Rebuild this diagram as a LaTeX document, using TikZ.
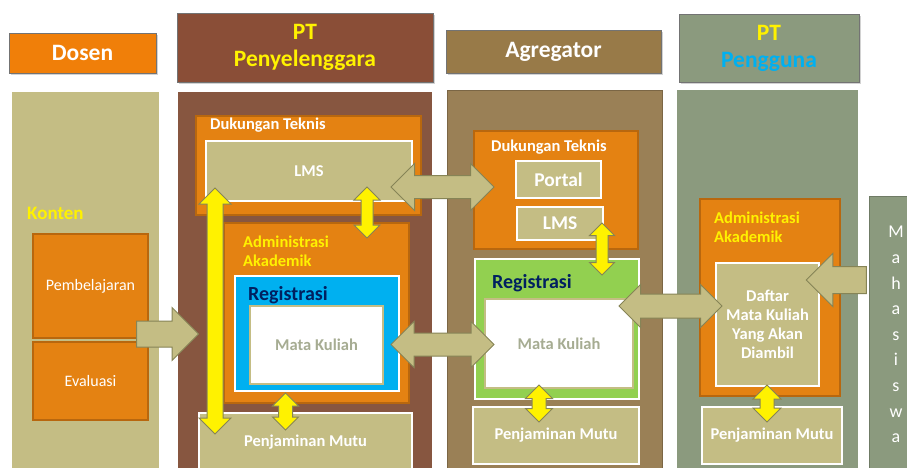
\documentclass[tikz,border=0pt]{standalone}
\usepackage{fontspec}
\setmainfont{Carlito}
\usetikzlibrary{shapes.arrows,shadows}
\definecolor{dosenor}{RGB}{240,127,9}
\definecolor{boxor}{RGB}{228,130,18}
\definecolor{boxorline}{RGB}{184,103,14}
\definecolor{ptbrown}{RGB}{135,86,64}
\definecolor{ptbrownhd}{RGB}{138,78,55}
\definecolor{agrbrown}{RGB}{154,128,86}
\definecolor{agrbrownhd}{RGB}{152,122,72}
\definecolor{usrgreen}{RGB}{139,154,126}
\definecolor{khaki}{RGB}{196,189,132}
\definecolor{khakiline}{RGB}{134,132,86}
\definecolor{regblue}{RGB}{0,176,240}
\definecolor{reggreen}{RGB}{146,208,80}
\definecolor{regnavy}{RGB}{0,32,96}
\definecolor{mkgray}{RGB}{166,172,146}
\newcommand{\smallbf}{\fontsize{16.5}{19}\selectfont\bfseries}

\begin{document}
\begin{tikzpicture}[x=1pt,y=-1pt,
    blk/.style={rectangle,inner sep=0pt,outer sep=0pt,anchor=north west},
    header/.style={blk,draw=black!55,line width=0.8pt,align=center,
      drop shadow={shadow xshift=2pt,shadow yshift=-2pt,opacity=0.35},
      font=\fontsize{23.5}{27}\selectfont\bfseries},
    orbox/.style={blk,fill=boxor,draw=boxorline,line width=1.2pt},
    kbox/.style={blk,fill=khaki,draw=white,line width=1.6pt,text=white,align=center,font=\smallbf},
    lbl/.style={anchor=west,inner sep=0pt,align=left,font=\smallbf},
    regbox/.style={blk,draw=white,line width=1.6pt},
    mkbox/.style={blk,fill=white,draw=khaki,line width=1.6pt,text=mkgray,font=\smallbf},
    linkarrow/.style={double arrow,fill=khaki,draw=khakiline,line width=1pt,inner xsep=0pt,minimum height=103pt},
    yarrow/.style={double arrow,fill=yellow,draw=khakiline,line width=1pt,inner xsep=0pt,rotate=90},
    inarrow/.style={single arrow,fill=khaki,draw=khakiline,line width=1pt,inner xsep=0pt}]
  \useasboundingbox (0,0) rectangle (907,468);
  \fill[white] (0,0) rectangle (907,468);

  \node[header,fill=dosenor,text=white,minimum width=147pt,minimum height=40pt] (hdDosen) at (9,33) {Dosen};
  \node[header,fill=ptbrownhd,text=yellow,minimum width=256pt,minimum height=69pt] (hdPT) at (177,13) {PT\\Penyelenggara};
  \node[header,fill=agrbrownhd,text=white,minimum width=215pt,minimum height=43pt] (hdAgr) at (446,30) {Agregator};
  \node[header,fill=usrgreen,minimum width=180pt,minimum height=68pt] (hdUsr) at (679,14) {\textcolor{yellow}{PT}\\\textcolor{regblue}{Pengguna}};

  \node[blk,fill=khaki,minimum width=147pt,minimum height=376pt] (colDosen) at (12,92) {};
  \node[blk,fill=ptbrown,minimum width=254pt,minimum height=376pt] (colPT) at (178,92) {};
  \node[blk,fill=agrbrown,draw=agrbrown!80!black,minimum width=215pt,minimum height=380pt] (colAgr) at (447,90) {};
  \node[blk,fill=usrgreen,minimum width=181pt,minimum height=378pt] (colUsr) at (677,90) {};
  \node[blk,fill=usrgreen,draw=usrgreen!80!black,minimum width=40pt,minimum height=274pt] (colMhs) at (869,196) {};
  \node[text=white,align=center,font=\fontsize{18}{25.6}\selectfont] (mhsText) at (896,334.5) {M\\a\\h\\a\\s\\i\\s\\w\\a};

  \node[lbl,text=yellow,font=\fontsize{19}{21}\selectfont\bfseries] (konten) at (27,213) {Konten};
  \node[orbox,text=white,font=\fontsize{16}{18}\selectfont,minimum width=115pt,minimum height=104pt] (pemb) at (33,234) {Pembelajaran};
  \node[orbox,text=white,font=\fontsize{16}{18}\selectfont,minimum width=115pt,minimum height=78pt] (eval) at (33,342) {Evaluasi};

  \node[orbox,minimum width=225pt,minimum height=99pt] (dtPT) at (196,116) {};
  \node[lbl,text=white] (dtPTlbl) at (210,125) {Dukungan Teknis};
  \node[kbox,minimum width=206pt,minimum height=60pt] (lmsPT) at (206,141) {LMS};
  \node[orbox,minimum width=185pt,minimum height=180pt] (aaPT) at (224,223) {};
  \node[lbl,text=yellow] (aaPTlbl) at (243,251.5) {Administrasi\\Akademik};
  \node[regbox,fill=regblue,minimum width=164pt,minimum height=115pt] (regPT) at (235,276) {};
  \node[lbl,text=regnavy,font=\fontsize{20}{22}\selectfont\bfseries] (regPTlbl) at (248,295) {Registrasi};
  \node[mkbox,minimum width=133pt,minimum height=78pt] (mkPT) at (250,306) {Mata Kuliah};
  \node[kbox,minimum width=213pt,minimum height=58pt] (pmPT) at (199,413) {Penjaminan Mutu};

  \node[orbox,minimum width=164pt,minimum height=118pt] (dtAgr) at (474,131) {};
  \node[lbl,text=white] (dtAgrlbl) at (491,147) {Dukungan Teknis};
  \node[kbox,font=\fontsize{19.5}{20}\selectfont\bfseries,minimum width=85pt,minimum height=37pt] (portal) at (516,161) {Portal};
  \node[kbox,font=\fontsize{19.5}{20}\selectfont\bfseries,minimum width=86pt,minimum height=33pt] (lmsAgr) at (517,207) {LMS};
  \node[regbox,fill=reggreen,minimum width=164pt,minimum height=140pt] (regAgr) at (475,259) {};
  \node[lbl,text=regnavy,font=\fontsize{20}{22}\selectfont\bfseries] (regAgrlbl) at (492,283) {Registrasi};
  \node[mkbox,minimum width=148pt,minimum height=89pt] (mkAgr) at (485,299) {Mata Kuliah};
  \node[kbox,minimum width=166pt,minimum height=57pt] (pmAgr) at (473,407) {Penjaminan Mutu};

  \node[orbox,minimum width=140pt,minimum height=197pt] (aaUsr) at (700,199) {};
  \node[lbl,text=yellow] (aaUsrlbl) at (714,227.5) {Administrasi\\Akademik};
  \node[kbox,minimum width=103pt,minimum height=123pt] (daftar) at (716,263) {Daftar\\Mata Kuliah\\Yang Akan\\Diambil};
  \node[kbox,minimum width=140pt,minimum height=57pt] (pmUsr) at (702,407) {Penjaminan Mutu};

  \node[inarrow,minimum height=62pt,inner ysep=12.5pt,single arrow head extend=13.5pt] (kontenIn) at (161,334) {};
  \node[inarrow,rotate=180,minimum height=60pt,inner ysep=13pt,single arrow head extend=13pt] (mhsIn) at (843,280) {};
  \node[linkarrow,inner ysep=11pt,double arrow head extend=12pt] (linkLMS) at (442.5,187) {};
  \node[linkarrow,inner ysep=11pt,double arrow head extend=11.5pt] (linkMK) at (442.5,344.5) {};
  \node[linkarrow,inner ysep=11.5pt,double arrow head extend=9.5pt] (linkUsr) at (670.5,306) {};

  \node[yarrow,minimum height=246pt,inner ysep=7.5pt,double arrow head extend=8pt] (yPT) at (215,311) {};
  \node[yarrow,minimum height=51pt,inner ysep=5.5pt,double arrow head extend=7pt] (yPTlms) at (367,212.5) {};
  \node[yarrow,minimum height=37pt,inner ysep=6.5pt,double arrow head extend=6pt] (yPTpm) at (285.5,411.5) {};
  \node[yarrow,minimum height=52pt,inner ysep=5.5pt,double arrow head extend=6.5pt] (yAgrlms) at (602,249) {};
  \node[yarrow,minimum height=37pt,inner ysep=6.5pt,double arrow head extend=6.5pt] (yAgrpm) at (539,403.5) {};
  \node[yarrow,minimum height=37pt,inner ysep=6.5pt,double arrow head extend=7pt] (yUsrpm) at (767,403.5) {};
\end{tikzpicture}
\end{document}
